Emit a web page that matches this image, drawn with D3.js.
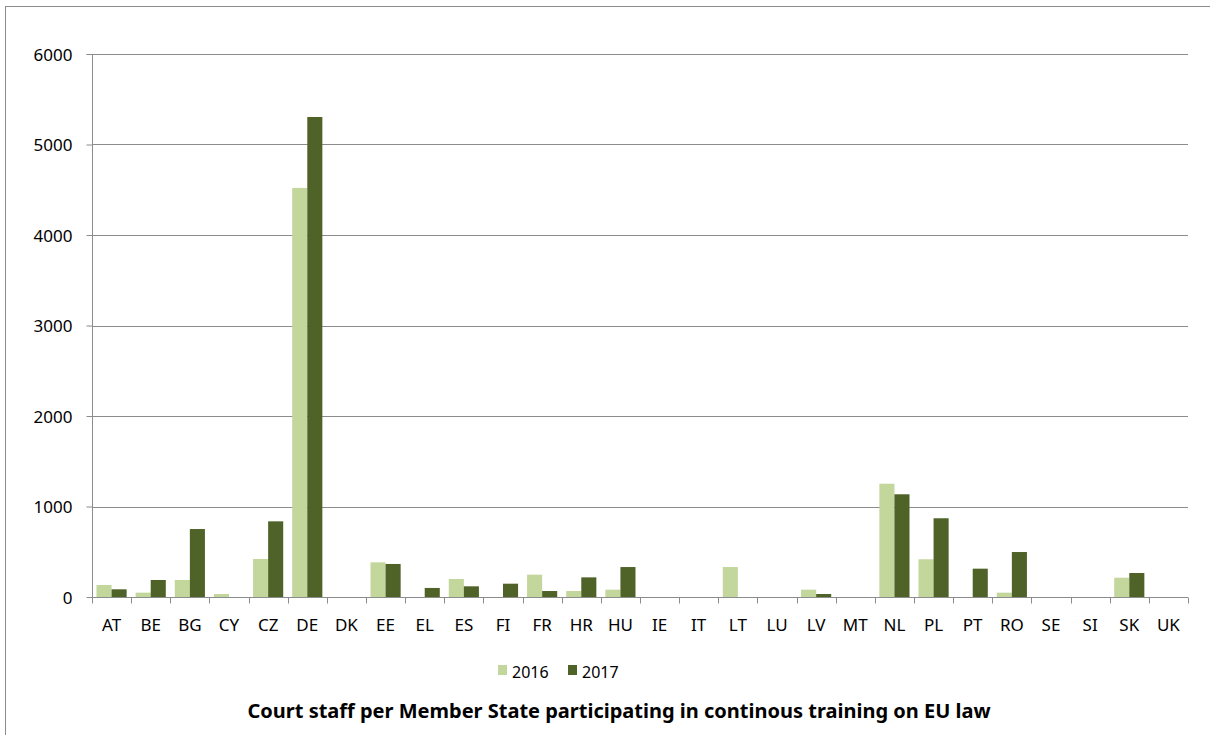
<!DOCTYPE html>
<html>
<head>
<meta charset="utf-8">
<script src="https://cdn.jsdelivr.net/npm/d3@7"></script>
<style>
  body { margin: 0; background: #fff; }
  text { font-family: 'Noto Sans', sans-serif; fill: #000; }
</style>
</head>
<body>
<svg id="chart" width="1210" height="735"></svg>
<script>
// Member states on the x axis
const countries = ['AT', 'BE', 'BG', 'CY', 'CZ', 'DE', 'DK', 'EE', 'EL', 'ES', 'FI', 'FR', 'HR', 'HU',
  'IE', 'IT', 'LT', 'LU', 'LV', 'MT', 'NL', 'PL', 'PT', 'RO', 'SE', 'SI', 'SK', 'UK'];

// Values
const values2016 = [133, 48, 188, 33, 420, 4520, 0, 383, 0, 199, 0, 247, 66, 81,
  0, 0, 331, 0, 81, 0, 1252, 417, 0, 48, 0, 0, 213, 0];
const values2017 = [85, 188, 751, 0, 836, 5304, 0, 365, 100, 118, 147, 66, 217, 331,
  0, 0, 0, 0, 33, 0, 1135, 870, 313, 497, 0, 0, 265, 0];

const seriesNames = ['2016', '2017'];
const yTicks = [0, 1000, 2000, 3000, 4000, 5000, 6000];

const colors = ['#c3d69b', '#4f6228'];
const plotLeft = 92, plotRight = 1188, plotTop = 54, plotBottom = 597;

const svg = d3.select('#chart');

// outer frame of the chart area
svg.append('rect')
  .attr('x', 5.5).attr('y', 6.5)
  .attr('width', 1230).attr('height', 760)
  .attr('fill', 'none').attr('stroke', '#8c8c8c').attr('stroke-width', 1);

const x = d3.scaleBand().domain(countries).range([plotLeft, plotRight]).paddingInner(0.23).paddingOuter(0.115);
const xBand = d3.scaleBand().domain(countries).range([plotLeft, plotRight]);
const xSub = d3.scaleBand().domain(seriesNames).range([0, x.bandwidth()]);
const y = d3.scaleLinear().domain([0, 6000]).range([plotBottom, plotTop]);

// gridlines
svg.append('g')
  .selectAll('line')
  .data(yTicks.slice(1))
  .enter()
  .append('line')
  .attr('x1', plotLeft).attr('x2', plotRight)
  .attr('y1', d => Math.round(y(d)) + 0.5)
  .attr('y2', d => Math.round(y(d)) + 0.5)
  .attr('stroke', '#8c8c8c').attr('stroke-width', 1);

// bars
const data = countries.map((c, i) => ({ c: c, v: [values2016[i], values2017[i]] }));
const groups = svg.append('g')
  .selectAll('g')
  .data(data)
  .enter()
  .append('g')
  .attr('transform', d => 'translate(' + x(d.c) + ',0)');

groups.selectAll('rect')
  .data(d => d.v.map((v, j) => ({ k: seriesNames[j], v: v, j: j })))
  .enter()
  .append('rect')
  .attr('x', d => xSub(d.k))
  .attr('y', d => y(d.v))
  .attr('width', xSub.bandwidth())
  .attr('height', d => plotBottom - y(d.v))
  .attr('fill', d => colors[d.j]);

// y axis
const yAxis = svg.append('g')
  .attr('transform', 'translate(' + (plotLeft + 0.5) + ',0)')
  .call(d3.axisLeft(y).tickValues(yTicks).tickSize(6).tickPadding(14).tickFormat(d3.format('d')));
yAxis.selectAll('line, path').attr('stroke', '#8c8c8c');
yAxis.select('.domain').attr('d', 'M-6,' + (plotTop + 0.5) + 'H0V' + (plotBottom + 0.5));
yAxis.selectAll('text')
  .style('font-family', "'Noto Sans', sans-serif")
  .style('font-size', '17px')
  .attr('dy', '0.38em')
  .attr('fill', '#000');

// x axis with ticks at category boundaries
const xAxis = svg.append('g')
  .attr('transform', 'translate(0,' + (plotBottom + 0.5) + ')');
xAxis.append('line')
  .attr('x1', plotLeft).attr('x2', plotRight)
  .attr('stroke', '#8c8c8c');
xAxis.selectAll('.tk')
  .data(countries.concat(['end']))
  .enter()
  .append('line')
  .attr('x1', (d, i) => Math.round(plotLeft + i * xBand.step()) + 0.5)
  .attr('x2', (d, i) => Math.round(plotLeft + i * xBand.step()) + 0.5)
  .attr('y1', 0).attr('y2', 6)
  .attr('stroke', '#8c8c8c');
xAxis.selectAll('text')
  .data(countries)
  .enter()
  .append('text')
  .attr('x', d => xBand(d) + xBand.bandwidth() / 2)
  .attr('y', 33)
  .attr('text-anchor', 'middle')
  .style('font-size', '17px')
  .text(d => d);

// legend
const legend = svg.append('g').attr('transform', 'translate(498,665)');
const li = legend.selectAll('g')
  .data(seriesNames)
  .enter()
  .append('g')
  .attr('transform', (d, i) => 'translate(' + i * 70 + ',0)');
li.append('rect').attr('width', 9).attr('height', 10).attr('fill', (d, i) => colors[i]);
li.append('text').attr('x', 14).attr('y', 13).style('font-size', '16px').text(d => d);

// title
svg.append('text')
  .attr('x', 619).attr('y', 718)
  .attr('text-anchor', 'middle')
  .style('font-size', '20px')
  .style('font-weight', 'bold')
  .text('Court staff per Member State participating in continous training on EU law');
</script>
</body>
</html>
